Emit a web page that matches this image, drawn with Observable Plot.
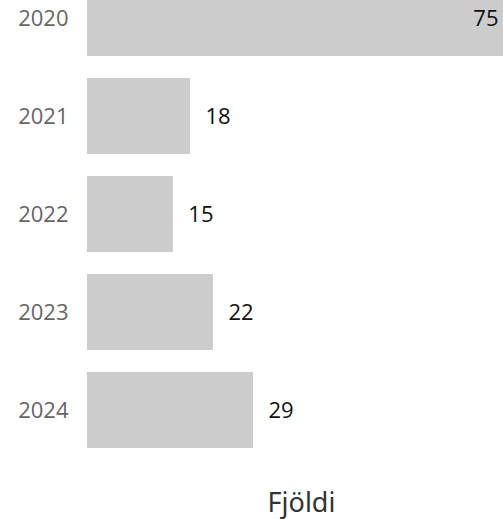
<!DOCTYPE html>
<html>
<head>
<meta charset="utf-8">
<script src="https://cdn.jsdelivr.net/npm/d3@7"></script>
<script src="https://cdn.jsdelivr.net/npm/@observablehq/plot@0.6"></script>
<style>
  html, body { margin: 0; padding: 0; background: #fff; }
  #chart svg { display: block; overflow: hidden; }
</style>
</head>
<body>
<div id="chart"></div>
<script>
const years = ["2020", "2021", "2022", "2023", "2024"];
const counts = [75, 18, 15, 22, 29];
const xMax = 72.7;
const axisTitle = "Fjöldi";

const data = years.map((y, i) => ({year: y, value: counts[i]}));

const chart = Plot.plot({
  width: 503,
  height: 519,
  marginLeft: 87,
  marginRight: 0,
  marginTop: 0,
  marginBottom: 69,
  style: {fontFamily: "'Open Sans', sans-serif", fontSize: "22px", background: "#fff"},
  x: {domain: [0, xMax], axis: null},
  y: {domain: years, range: [-22, 450], paddingInner: 0.22, paddingOuter: 0, axis: null},
  marks: [
    Plot.barX(data, {x: "value", y: "year", fill: "#cccccc", clip: true}),
    Plot.axisY({tickSize: 0, tickPadding: 19, fontSize: 22, color: "#666666", label: null}),
    Plot.text(data.filter(d => d.value <= xMax), {x: "value", y: "year", text: d => String(d.value), textAnchor: "start", dx: 15, fill: "#111111", fontSize: 22}),
    Plot.text(data.filter(d => d.value > xMax), {x: () => xMax, y: "year", text: d => String(d.value), textAnchor: "end", dx: -5, fill: "#111111", fontSize: 22}),
    Plot.text([axisTitle], {frameAnchor: "bottom", lineAnchor: "bottom", dy: 61, dx: 6, text: d => d, fontSize: 27, fill: "#333333", fontFamily: "'Noto Sans', sans-serif"})
  ]
});
document.getElementById("chart").appendChild(chart);
</script>
</body>
</html>
